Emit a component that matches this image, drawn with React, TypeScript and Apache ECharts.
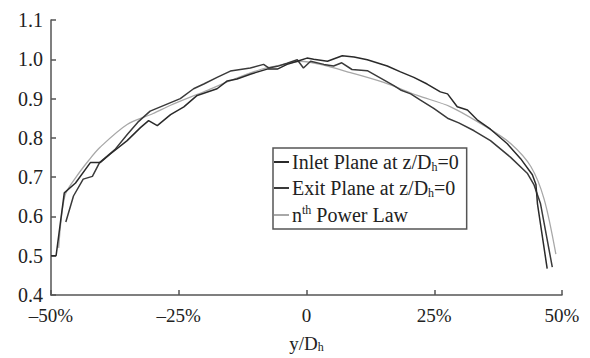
import React, { useEffect, useRef } from "react";
import * as echarts from "echarts";

const xTicks = [-50, -25, 0, 25, 50];
const yTicks = [0.4, 0.5, 0.6, 0.7, 0.8, 0.9, 1.0, 1.1];

const inletX = [-50, -49.0, -47.4, -45.2, -42.3, -40.4, -38.4, -35.1, -32.5, -30.9, -29.2, -26.6, -24.0, -21.4, -17.5, -15.5, -13.6, -11.0, -7.7, -5.7, -3.8, -1.8, 0.1, 1.4, 4.1, 7.0, 9.3, 11.9, 15.8, 18.4, 21.0, 23.6, 26.2, 27.6, 29.5, 31.5, 33.4, 36.0, 39.3, 41.9, 44.2, 44.9, 45.2, 47.1];
const inletY = [0.50, 0.50, 0.66, 0.685, 0.737, 0.737, 0.759, 0.793, 0.826, 0.844, 0.831, 0.859, 0.879, 0.908, 0.925, 0.945, 0.950, 0.962, 0.975, 0.975, 0.987, 0.995, 1.003, 1.0, 0.995, 1.009, 1.006, 0.999, 0.983, 0.968, 0.954, 0.937, 0.917, 0.912, 0.879, 0.871, 0.846, 0.822, 0.785, 0.747, 0.706, 0.681, 0.632, 0.467];

const exitX = [-47.1, -45.6, -43.7, -41.9, -40.5, -37.5, -35.0, -33.0, -30.6, -24.7, -22.1, -20.1, -17.5, -14.9, -11.0, -8.4, -7.4, -5.7, -3.8, -1.8, -0.6, 0.8, 3.4, 5.3, 6.9, 8.9, 11.9, 14.5, 17.1, 18.4, 20.4, 22.3, 24.9, 27.6, 29.8, 32.8, 36.0, 39.9, 43.2, 44.5, 45.8, 48.1];
const exitY = [0.586, 0.652, 0.695, 0.702, 0.737, 0.77, 0.81, 0.84, 0.868, 0.90, 0.925, 0.937, 0.954, 0.970, 0.978, 0.987, 0.978, 0.982, 0.99, 0.999, 0.978, 0.995, 0.987, 0.983, 0.991, 0.974, 0.971, 0.952, 0.933, 0.922, 0.912, 0.896, 0.875, 0.85, 0.838, 0.818, 0.793, 0.751, 0.71, 0.681, 0.632, 0.471];

const powerX = [-48.5, -47.3, -45.2, -42.6, -40.4, -35.1, -30.0, -26.6, -20.0, -15.0, -9.0, -4.0, -1.2, 2.7, 8.6, 15.1, 21.7, 28.2, 35.4, 40.0, 43.9, 46.5, 48.8];
const powerY = [0.52, 0.652, 0.698, 0.743, 0.776, 0.834, 0.862, 0.883, 0.918, 0.945, 0.974, 0.988, 0.995, 0.987, 0.966, 0.941, 0.908, 0.879, 0.826, 0.785, 0.727, 0.644, 0.504];

const seriesNames = ["Inlet Plane at z/Dh=0", "Exit Plane at z/Dh=0", "nth Power Law"];

const zip = (xs: number[], ys: number[]) => xs.map((x, i) => [x, ys[i]]);

const FONT = "Liberation Serif";

export default function App() {
  const ref = useRef<HTMLDivElement>(null);
  useEffect(() => {
    if (!ref.current) return;
    const chart = echarts.init(ref.current, undefined, { renderer: "svg" });
    const legendFmt = (name: string) => {
      if (name === seriesNames[0]) return "{t|Inlet Plane at z/D}{s|h}{t|=0}";
      if (name === seriesNames[1]) return "{t|Exit Plane at z/D}{s|h}{t|=0}";
      return "{t|n}{p|th}{t| Power Law}";
    };
    chart.setOption({
      animation: false,
      backgroundColor: "#ffffff",
      grid: { left: 51, right: 28, top: 20, bottom: 56, containLabel: false },
      xAxis: {
        type: "value",
        min: xTicks[0],
        max: xTicks[xTicks.length - 1],
        interval: 25,
        name: "y/D{s|h}",
        nameLocation: "middle",
        nameGap: 38,
        nameTextStyle: {
          fontFamily: FONT,
          fontSize: 19,
          color: "#222",
          rich: {
            s: { fontFamily: FONT, fontSize: 12, color: "#222", verticalAlign: "bottom", padding: [8, 0, 0, 0] },
          },
        },
        axisLine: { show: true, onZero: false, lineStyle: { color: "#555", width: 1.5 } },
        axisTick: { show: true, inside: true, length: 5, lineStyle: { color: "#555", width: 1.5 } },
        axisLabel: {
          fontFamily: FONT,
          fontSize: 19,
          color: "#222",
          margin: 11,
          formatter: (v: number) => (v === 0 ? "0" : (v < 0 ? "\u2013" + Math.abs(v) : String(v)) + "%"),
        },
        splitLine: { show: false },
      },
      yAxis: {
        type: "value",
        min: yTicks[0],
        max: yTicks[yTicks.length - 1],
        interval: 0.1,
        axisLine: { show: true, onZero: false, lineStyle: { color: "#555", width: 1.5 } },
        axisTick: { show: true, inside: true, length: 5, lineStyle: { color: "#555", width: 1.5 } },
        axisLabel: {
          fontFamily: FONT,
          fontSize: 20,
          color: "#222",
          margin: 8,
          formatter: (v: number) => v.toFixed(1),
        },
        splitLine: { show: false },
      },
      legend: {
        data: seriesNames,
        orient: "vertical",
        left: 273,
        top: 148,
        padding: [4, 8, 4, 1],
        itemGap: 5,
        itemWidth: 15,
        itemHeight: 2,
        icon: "rect",
        borderColor: "#555",
        borderWidth: 1.5,
        backgroundColor: "#fff",
        formatter: legendFmt,
        textStyle: {
          fontFamily: FONT,
          fontSize: 20,
          color: "#222",
          padding: [0, 0, 0, -2],
          rich: {
            t: { fontFamily: FONT, fontSize: 20, color: "#222", lineHeight: 22 },
            s: { fontFamily: FONT, fontSize: 12, color: "#222", verticalAlign: "bottom", padding: [8, 0, 0, 0] },
            p: { fontFamily: FONT, fontSize: 12, color: "#222", verticalAlign: "top", padding: [0, 0, 8, 0] },
          },
        },
      },
      series: [
        {
          name: seriesNames[2],
          type: "line",
          data: zip(powerX, powerY),
          symbol: "none",
          smooth: 0.3,
          lineStyle: { color: "#a8a8a8", width: 1.3 },
          itemStyle: { color: "#a8a8a8" },
          z: 1,
        },
        {
          name: seriesNames[0],
          type: "line",
          data: zip(inletX, inletY),
          symbol: "none",
          lineStyle: { color: "#2a2a2a", width: 1.5 },
          itemStyle: { color: "#2a2a2a" },
          z: 3,
        },
        {
          name: seriesNames[1],
          type: "line",
          data: zip(exitX, exitY),
          symbol: "none",
          lineStyle: { color: "#3a3a3a", width: 1.5 },
          itemStyle: { color: "#3a3a3a" },
          z: 2,
        },
      ],
    });
    return () => chart.dispose();
  }, []);
  return (
    <div
      ref={ref}
      style={{ position: "fixed", left: 0, top: 0, width: 590, height: 358, background: "#fff" }}
    />
  );
}
